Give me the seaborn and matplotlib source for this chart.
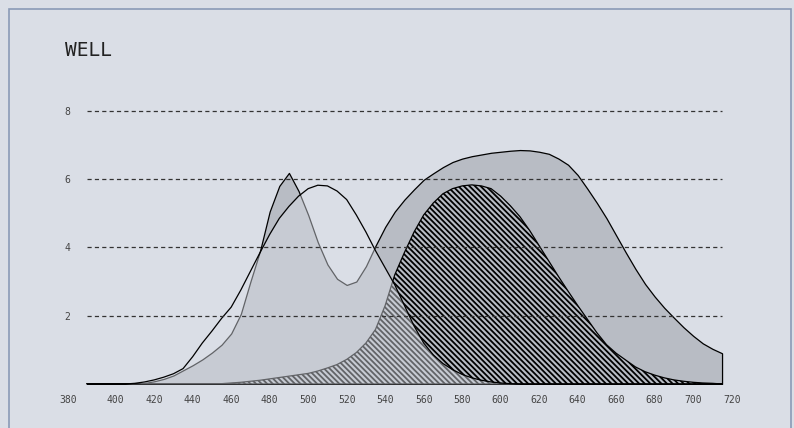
import matplotlib
matplotlib.use("Agg")
import matplotlib.pyplot as plt
from matplotlib.patches import Rectangle
import numpy as np
import pandas as pd
import seaborn as sns

# wavelength grid (nm)
wavelength = np.arange(385, 716, 5)

# line-only curve with light veil (peak ~506)
series_a = [0, 0, 0, 0, 0, 0.02, 0.06, 0.12, 0.2, 0.3,
            0.45, 0.8, 1.2, 1.55, 1.92, 2.25, 2.75, 3.3, 3.85, 4.38,
            4.85, 5.2, 5.5, 5.72, 5.82, 5.8, 5.65, 5.4, 4.95, 4.45,
            3.9, 3.4, 2.9, 2.3, 1.7, 1.2, 0.85, 0.6, 0.42, 0.28,
            0.18, 0.11, 0.06, 0.03, 0.01, 0, 0, 0, 0, 0,
            0, 0, 0, 0, 0, 0, 0, 0, 0, 0,
            0, 0, 0, 0, 0, 0, 0]

# dark grey bimodal area
series_b = [0, 0, 0, 0, 0, 0, 0.03, 0.08, 0.15, 0.25,
            0.4, 0.55, 0.72, 0.92, 1.15, 1.48, 2.05, 3.0, 3.9, 5.05,
            5.8, 6.18, 5.65, 4.95, 4.15, 3.5, 3.08, 2.9, 3.0, 3.45,
            4.05, 4.6, 5.05, 5.4, 5.7, 5.98, 6.17, 6.35, 6.5, 6.6,
            6.67, 6.72, 6.77, 6.8, 6.83, 6.85, 6.84, 6.8, 6.74, 6.6,
            6.42, 6.12, 5.72, 5.3, 4.85, 4.35, 3.85, 3.37, 2.93, 2.56,
            2.23, 1.94, 1.66, 1.41, 1.19, 1.03, 0.9]

# hatched area (peak ~583)
series_d = [0, 0, 0, 0, 0, 0, 0, 0, 0, 0,
            0, 0, 0, 0, 0.01, 0.03, 0.05, 0.08, 0.11, 0.15,
            0.19, 0.23, 0.27, 0.31, 0.38, 0.47, 0.57, 0.72, 0.92, 1.2,
            1.6, 2.3, 3.2, 3.85, 4.45, 4.95, 5.3, 5.57, 5.72, 5.8,
            5.83, 5.8, 5.72, 5.5, 5.22, 4.9, 4.5, 4.05, 3.6, 3.15,
            2.72, 2.3, 1.9, 1.5, 1.15, 0.9, 0.7, 0.5, 0.36, 0.26,
            0.18, 0.12, 0.08, 0.05, 0.03, 0.02, 0]

x_ticks = list(range(380, 721, 20))
y_ticks = [2, 4, 6, 8]

bg = "#dadee6"
df = pd.DataFrame({"wl": wavelength, "a": series_a, "b": series_b, "d": series_d})

sns.set_theme(style="white", rc={"figure.facecolor": bg, "axes.facecolor": bg})
plt.rcParams["font.family"] = ["DejaVu Sans Mono", "DejaVu Sans"]
plt.rcParams["hatch.linewidth"] = 1.3
plt.rcParams["lines.scale_dashes"] = False

fig = plt.figure(figsize=(7.94, 4.28), dpi=100)
ax = fig.add_axes([0.0972, 0.1028, 0.8243, 0.7182])

# dark grey area
ax.fill_between(df["wl"], df["b"], facecolor="#b8bcc4", edgecolor="black", lw=0.9,
                joinstyle="round", zorder=1)
# hatched area
ax.fill_between(df["wl"], df["d"], facecolor="none", edgecolor="black", hatch="\\" * 6,
                lw=0.9, joinstyle="round", zorder=2)
# light veil + line
ax.fill_between(df["wl"], df["a"], color=bg, alpha=0.45, lw=0, zorder=3)
sns.lineplot(data=df, x="wl", y="a", color="black", lw=0.9, ax=ax, zorder=4)

# dashed grid only over data range
ax.hlines(y_ticks, wavelength[0], wavelength[-1], colors="#333333", lw=0.9,
          linestyles=(0, (3.0, 2.3)), zorder=5)

ax.set_xlim(380, 720)
ax.set_ylim(0, 9)
ax.set_xticks(x_ticks)
ax.set_xticklabels([str(v) for v in x_ticks])
ax.set_yticks(y_ticks)
ax.set_yticklabels([str(v) for v in y_ticks])
ax.tick_params(axis="x", length=0, pad=8, labelsize=7, labelcolor="#444444")
ax.tick_params(axis="y", length=0, pad=5, labelsize=7, labelcolor="#444444")
ax.get_xticklabels()[0].set_horizontalalignment("right")
ax.set_xlabel("")
ax.set_ylabel("")
sns.despine(ax=ax, left=True, bottom=True)

fig.text(65 / 794, 1 - 50 / 428, "WELL", fontsize=14, color="#222222",
         ha="left", va="center")

fig.add_artist(Rectangle((9 / 794, -0.05), 781.5 / 794, (419 / 428) + 0.05,
                         fill=False, edgecolor="#8a9ab6", lw=1.2,
                         transform=fig.transFigure))

fig.savefig("out.png", dpi=100, facecolor=bg)
